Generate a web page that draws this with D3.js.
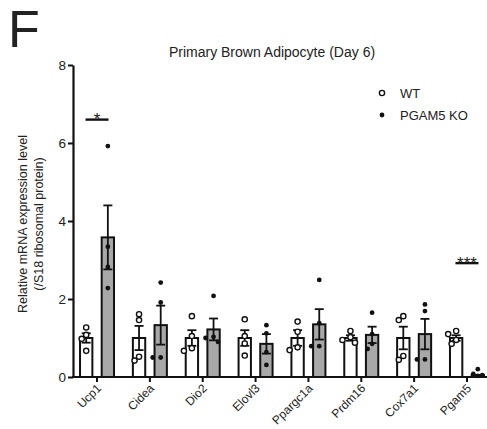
<!DOCTYPE html>
<html><head><meta charset="utf-8">
<script src="https://cdn.jsdelivr.net/npm/d3@7"></script>
<style>body{margin:0;background:#fff}text{font-family:"Liberation Sans",Arial,sans-serif;fill:#222}</style>
</head><body><svg id="c" width="487" height="429"></svg>
<script>
const genes = ["Ucp1","Cidea","Dio2","Elovl3","Ppargc1a","Prdm16","Cox7a1","Pgam5"];
const wtMean = [1.0,1.0,1.0,1.0,1.0,1.0,1.0,1.0];
const wtErr  = [0.12,0.31,0.2,0.2,0.2,0.07,0.29,0.07];
const koMean = [3.58,1.33,1.22,0.85,1.35,1.08,1.10,0.05];
const koErr  = [0.82,0.5,0.28,0.25,0.39,0.21,0.39,0.03];
const wtPts = [[1.27,1.08,0.98,0.67],[1.61,1.46,0.52,0.42],[1.56,1.05,0.74,0.67],[1.48,1.05,0.86,0.55],[1.42,1.16,0.76,0.69],[1.18,1.02,0.95,0.88],[1.56,1.46,0.54,0.44],[1.18,1.1,0.95,0.85]];
const koPts = [[5.92,3.34,2.82,2.28],[2.42,1.91,0.5,0.5],[2.08,1.03,1.0,0.9],[1.33,1.12,0.64,0.31],[2.49,1.38,0.79,0.79],[1.65,1.1,0.85,0.72],[1.86,1.69,0.45,0.45],[0.2,0.08,0.05,0.03]];
const yTicks = [0,2,4,6,8];
const sig = [{gene:"Ucp1",label:"*",y:6.6},{gene:"Pgam5",label:"***",y:2.92}];
const groups = ["WT","PGAM5 KO"];

const svg = d3.select("#c");
const y = d3.scaleLinear().domain([0,8]).range([377,65]);
const x = d3.scaleBand().domain(genes).range([70.6,493.4]);
const sub = d3.scaleBand().domain(groups).range([-17,17]).paddingInner(0.43);

// y axis
const ya = svg.append("g").attr("transform","translate(73,0)")
  .call(d3.axisLeft(y).tickValues(yTicks).tickSize(5).tickSizeOuter(0).tickPadding(2));
ya.select(".domain").attr("stroke","#111").attr("stroke-width",2.2);
ya.selectAll(".tick line").attr("stroke","#111").attr("stroke-width",2);
ya.selectAll(".tick text").style("font-size","13.5px").attr("fill","#222");

// bars
const fillC = {"WT":"#ffffff","PGAM5 KO":"#a8a8a8"};
const data = [];
genes.forEach((g,i)=>{
  data.push({g,grp:"WT",m:wtMean[i],e:wtErr[i],pts:wtPts[i]});
  data.push({g,grp:"PGAM5 KO",m:koMean[i],e:koErr[i],pts:koPts[i]});
});
const gg = svg.append("g");
data.forEach(d=>{
  const cx = x(d.g)+x.bandwidth()/2;
  const x0 = cx+sub(d.grp), bw = sub.bandwidth();
  gg.append("rect").attr("x",x0).attr("y",y(d.m)).attr("width",bw).attr("height",y(0)-y(d.m))
    .attr("fill",fillC[d.grp]).attr("stroke","#111").attr("stroke-width",2);
  const bc = x0+bw/2;
  if(d.e>0.04){
    const lo=y(d.m-d.e), hi=y(d.m+d.e);
    gg.append("line").attr("x1",bc).attr("x2",bc).attr("y1",lo).attr("y2",hi).attr("stroke","#111").attr("stroke-width",1.8);
    [lo,hi].forEach(v=>gg.append("line").attr("x1",bc-4.5).attr("x2",bc+4.5).attr("y1",v).attr("y2",v).attr("stroke","#111").attr("stroke-width",1.8));
  }
  const placed=[];
  d.pts.forEach(v=>{
    const py=y(v);
    const cands=[0,-4.5,4.5,-8,8];
    let off=0;
    for(const c of cands){
      if(placed.every(p=>Math.hypot(p[0]-c,p[1]-py)>=5.5)){off=c;break;}
    }
    placed.push([off,py]);
    if(d.grp==="WT") gg.append("circle").attr("cx",bc+off).attr("cy",py).attr("r",2.6).attr("fill","#fff").attr("stroke","#111").attr("stroke-width",1.4);
    else gg.append("circle").attr("cx",bc+off).attr("cy",py).attr("r",2.4).attr("fill","#111");
  });
});

// x axis
const xa = svg.append("g").attr("transform","translate(0,377)")
  .call(d3.axisBottom(x).tickSize(5).tickSizeOuter(0));
xa.select(".domain").attr("d","M72,0H487").attr("stroke","#111").attr("stroke-width",2.2);
xa.selectAll(".tick line").attr("stroke","#111").attr("stroke-width",2);
xa.selectAll(".tick text").style("font-size","12px").attr("fill","#222")
  .attr("text-anchor","end").attr("x",0).attr("y",0).attr("dy","0.35em")
  .attr("transform","translate(2,9) rotate(-45)");

// significance
sig.forEach(s=>{
  const cx = x(s.gene)+x.bandwidth()/2;
  svg.append("line").attr("x1",cx-11.5).attr("x2",cx+11.5).attr("y1",y(s.y)).attr("y2",y(s.y)).attr("stroke","#111").attr("stroke-width",2.4);
  svg.append("text").attr("x",cx).attr("y",y(s.y)+5.5).attr("text-anchor","middle").style("font-size","17px").text(s.label);
});

// titles
svg.append("text").attr("x",272).attr("y",57).attr("text-anchor","middle").style("font-size","14px").text("Primary Brown Adipocyte (Day 6)");
svg.append("text").attr("x",8).attr("y",47).style("font-size","52px").text("F");
const yt = svg.append("text").attr("transform","translate(0,224) rotate(-90)").attr("text-anchor","middle").style("font-size","12.5px");
yt.append("tspan").attr("x",0).attr("y",27).text("Relative mRNA expression level");
yt.append("tspan").attr("x",0).attr("y",43).text("(/S18 ribosomal protein)");

// legend
const lg = svg.append("g");
groups.forEach((g,i)=>{
  const ly = 93+i*22;
  if(i===0) lg.append("circle").attr("cx",382).attr("cy",ly).attr("r",2.6).attr("fill","#fff").attr("stroke","#111").attr("stroke-width",1.4);
  else lg.append("circle").attr("cx",382).attr("cy",ly).attr("r",2.4).attr("fill","#111");
  lg.append("text").attr("x",400).attr("y",ly+4.5).style("font-size","13px").text(g);
});
</script></body></html>
